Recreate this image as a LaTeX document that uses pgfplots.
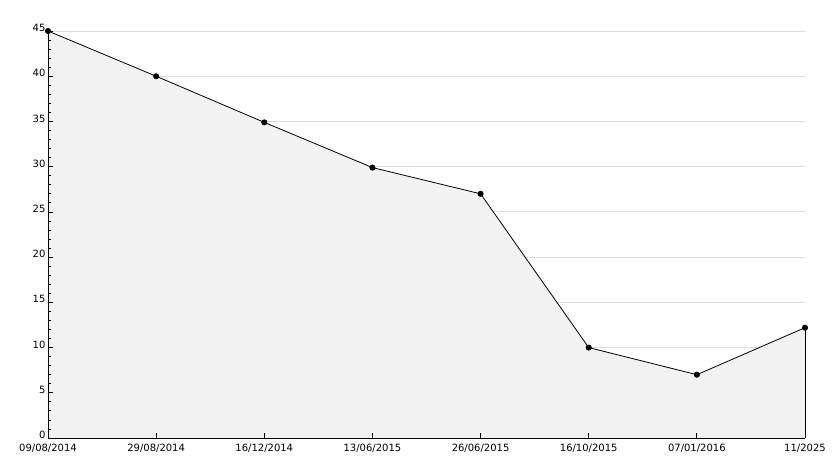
\documentclass[border=0pt]{standalone}
\usepackage{fontspec}
\setmainfont{DejaVu Sans}
\usepackage{pgfplots}
\pgfplotsset{compat=1.18}
\definecolor{fillgray}{HTML}{F2F2F2}
\definecolor{gridgray}{HTML}{DCDCDC}
\begin{document}
\begin{tikzpicture}
\begin{axis}[
  scale only axis,
  width=757pt, height=407pt,
  xmin=0, xmax=7, ymin=0, ymax=45,
  axis x line=bottom, axis y line=left,
  axis line style={-, black, line width=0.9pt},
  axis on top,
  xtick={0,1,2,3,4,5,6,7},
  xticklabels={09/08/2014,29/08/2014,16/12/2014,13/06/2015,26/06/2015,16/10/2015,07/01/2016,11/2025},
  ytick={0,5,...,45},
  minor y tick num=4,
  tick align=inside,
  major tick length=5pt,
  minor tick length=3pt,
  tick style={black, line width=0.8pt},
  tick label style={font=\fontsize{10}{12}\selectfont},
  /pgf/number format/assume math mode=true,
  xticklabel style={yshift=-3pt},
  yticklabel style={xshift=1pt, yshift=3pt},
  clip=false,
]
\pgfplotsinvokeforeach{5,10,...,45}{
  \draw[gridgray, line width=0.9pt] (axis cs:0,#1) -- (axis cs:7,#1);
}
\addplot[fill=fillgray, draw=none] coordinates {(0,45)(1,40)(2,34.9)(3,29.9)(4,27)(5,10)(6,7)(7,12.2)} \closedcycle;
\addplot[black, line width=0.8pt] coordinates {(7,0)(7,12.2)};
\addplot[black, line width=0.8pt, mark=*, mark size=2.6pt] coordinates {(0,45)(1,40)(2,34.9)(3,29.9)(4,27)(5,10)(6,7)(7,12.2)};
\coordinate (bl) at (axis description cs:-0.0634,-0.0737);
\coordinate (tr) at (axis description cs:1.0383,1.0762);
\end{axis}
\path (bl) rectangle (tr);
\end{tikzpicture}
\end{document}
